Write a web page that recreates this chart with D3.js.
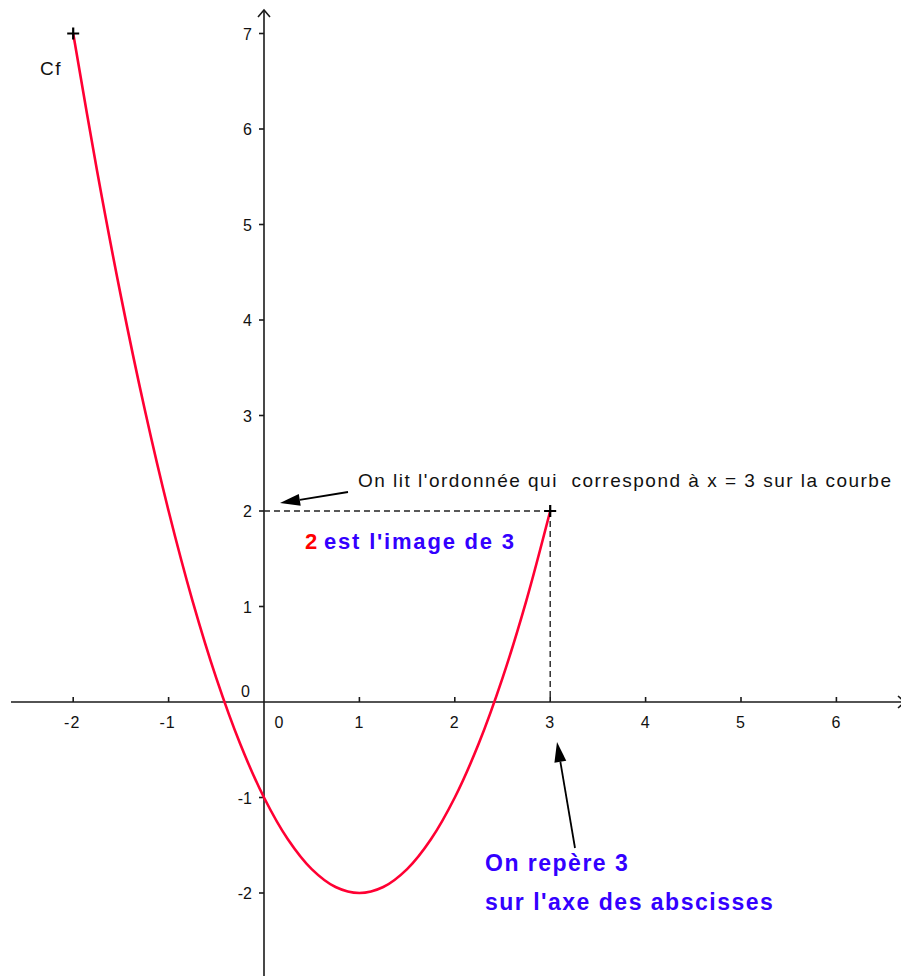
<!DOCTYPE html>
<html>
<head>
<meta charset="utf-8">
<script src="https://cdn.jsdelivr.net/npm/d3@7"></script>
<style>
  html, body { margin: 0; padding: 0; background: #fff; }
  svg { display: block; font-family: "Liberation Sans", Arial, sans-serif; }
</style>
</head>
<body>
<svg id="chart" width="901" height="976"></svg>
<script>
// Points of the curve Cf, sampled every 0.25 on [-2, 3]
const curveX = [-2, -1.75, -1.5, -1.25, -1, -0.75, -0.5, -0.25, 0, 0.25, 0.5, 0.75, 1, 1.25, 1.5, 1.75, 2, 2.25, 2.5, 2.75, 3];
const curveY = [7, 5.5625, 4.25, 3.0625, 2, 1.0625, 0.25, -0.4375, -1, -1.4375, -1.75, -1.9375, -2, -1.9375, -1.75, -1.4375, -1, -0.4375, 0.25, 1.0625, 2];

// Axis ticks and their labels
const xTicks = [-2, -1, 1, 2, 3, 4, 5, 6];
const yTicks = [-2, -1, 1, 2, 3, 4, 5, 6, 7];

// Marked points (endpoints of the curve)
const markX = [-2, 3];
const markY = [7, 2];

// Read-off point: image of 3
const readX = 3;
const readY = 2;

const W = 901, H = 976;
const svg = d3.select("#chart");

const x = d3.scaleLinear().domain([-2, 3]).range([73.2, 550.2]);
const y = d3.scaleLinear().domain([0, 7]).range([702, 33.5]);

const X0 = x(0), Y0 = y(0);
const axisColor = "#1a1a1a";

// ---- x axis ----
svg.append("line")
  .attr("x1", 11).attr("x2", W + 4)
  .attr("y1", Y0).attr("y2", Y0)
  .attr("stroke", axisColor).attr("stroke-width", 1.6);
svg.append("path")
  .attr("d", `M${W - 3},${Y0 - 6} L${W + 4},${Y0} L${W - 3},${Y0 + 6}`)
  .attr("fill", "none").attr("stroke", axisColor).attr("stroke-width", 1.6);

const xt = svg.append("g");
xt.selectAll("line").data(xTicks).join("line")
  .attr("x1", d => x(d)).attr("x2", d => x(d))
  .attr("y1", Y0 - 5).attr("y2", Y0)
  .attr("stroke", axisColor).attr("stroke-width", 1.6);
xt.selectAll("text").data(xTicks).join("text")
  .attr("x", d => x(d) + (d < 0 ? -1 : 0))
  .attr("y", Y0 + 26)
  .attr("text-anchor", "middle")
  .attr("font-size", 16)
  .attr("letter-spacing", 1)
  .attr("fill", "#111")
  .text(d => d);
svg.append("text")
  .attr("x", X0 + 15).attr("y", Y0 + 26)
  .attr("text-anchor", "middle").attr("font-size", 16).attr("fill", "#111")
  .text("0");

// ---- y axis ----
svg.append("line")
  .attr("x1", X0).attr("x2", X0)
  .attr("y1", 10).attr("y2", H)
  .attr("stroke", axisColor).attr("stroke-width", 1.6);
svg.append("path")
  .attr("d", `M${X0 - 6},${17} L${X0},${10} L${X0 + 6},${17}`)
  .attr("fill", "none").attr("stroke", axisColor).attr("stroke-width", 1.6);

const yt = svg.append("g");
yt.selectAll("line").data(yTicks).join("line")
  .attr("x1", X0 - 5).attr("x2", X0)
  .attr("y1", d => y(d)).attr("y2", d => y(d))
  .attr("stroke", axisColor).attr("stroke-width", 1.6);
yt.selectAll("text").data(yTicks).join("text")
  .attr("x", X0 - 12)
  .attr("y", d => y(d) + 6)
  .attr("text-anchor", "end")
  .attr("font-size", 16)
  .attr("fill", "#111")
  .text(d => d);
svg.append("text")
  .attr("x", X0 - 14).attr("y", Y0 - 5)
  .attr("text-anchor", "end").attr("font-size", 16).attr("fill", "#111")
  .text("0");

// ---- dashed guides ----
svg.append("line")
  .attr("x1", X0).attr("x2", x(readX))
  .attr("y1", y(readY)).attr("y2", y(readY))
  .attr("stroke", "#222").attr("stroke-width", 1.4)
  .attr("stroke-dasharray", "6,4");
svg.append("line")
  .attr("x1", x(readX)).attr("x2", x(readX))
  .attr("y1", y(readY)).attr("y2", Y0)
  .attr("stroke", "#222").attr("stroke-width", 1.4)
  .attr("stroke-dasharray", "6,4");

// ---- curve ----
const pts = curveX.map((d, i) => [d, curveY[i]]);
svg.append("path")
  .datum(pts)
  .attr("d", d3.line().x(d => x(d[0])).y(d => y(d[1])).curve(d3.curveCatmullRom))
  .attr("fill", "none")
  .attr("stroke", "#ff0033")
  .attr("stroke-width", 2.6);

// ---- point markers ----
const marks = markX.map((d, i) => [d, markY[i]]);
svg.selectAll("path.mark").data(marks).join("path")
  .attr("class", "mark")
  .attr("d", d => {
    const cx = x(d[0]), cy = y(d[1]);
    return `M${cx - 6},${cy} L${cx + 6},${cy} M${cx},${cy - 6} L${cx},${cy + 6}`;
  })
  .attr("stroke", "#000").attr("stroke-width", 2.2);

svg.append("text")
  .attr("x", 40).attr("y", 75)
  .attr("font-size", 19).attr("letter-spacing", 1.5).attr("fill", "#111")
  .text("Cf");

// ---- annotation arrows ----
function arrow(x1, y1, x2, y2) {
  const ang = Math.atan2(y2 - y1, x2 - x1);
  const len = 20, half = 6;
  const bx = x2 - len * Math.cos(ang), by = y2 - len * Math.sin(ang);
  svg.append("line")
    .attr("x1", x1).attr("y1", y1).attr("x2", bx).attr("y2", by)
    .attr("stroke", "#000").attr("stroke-width", 1.8);
  const px = -Math.sin(ang) * half, py = Math.cos(ang) * half;
  svg.append("path")
    .attr("d", `M${x2},${y2} L${bx + px},${by + py} L${bx - px},${by - py} Z`)
    .attr("fill", "#000");
}
arrow(348, 492, 280, 503);
arrow(575, 848, 557, 742);

// ---- texts ----
svg.append("text")
  .attr("x", 358).attr("y", 487)
  .attr("font-size", 19).attr("letter-spacing", 1.5).attr("fill", "#111")
  .attr("xml:space", "preserve")
  .text("On lit l'ordonnée qui  correspond à x = 3 sur la courbe");

const t1 = svg.append("text")
  .attr("x", 305).attr("y", 549)
  .attr("font-size", 22).attr("font-weight", "bold")
  .attr("letter-spacing", 1.8)
  .attr("xml:space", "preserve");
t1.append("tspan").attr("fill", "#ff0000").text("2");
t1.append("tspan").attr("fill", "#3300ff").attr("dx", 5).text("est l'image de 3");

svg.append("text")
  .attr("x", 485).attr("y", 871)
  .attr("font-size", 23).attr("font-weight", "bold").attr("fill", "#3300ff")
  .attr("letter-spacing", 1.5)
  .text("On repère 3");
svg.append("text")
  .attr("x", 485).attr("y", 910)
  .attr("font-size", 23).attr("font-weight", "bold").attr("fill", "#3300ff")
  .attr("letter-spacing", 1.5)
  .text("sur l'axe des abscisses");
</script>
</body>
</html>
